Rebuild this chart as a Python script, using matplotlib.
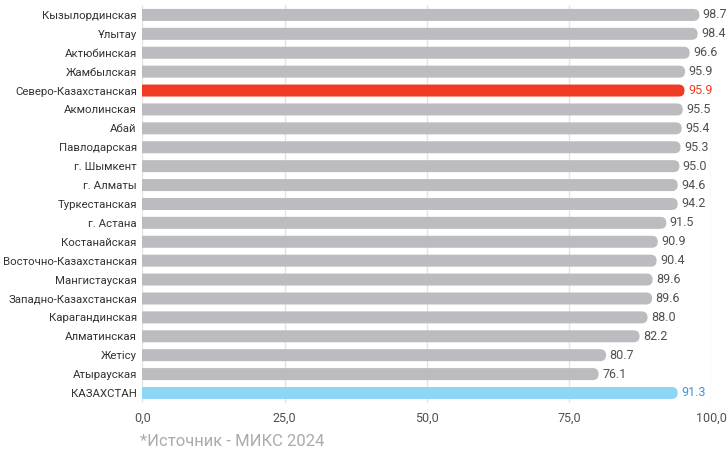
import matplotlib
matplotlib.use("Agg")
import matplotlib.pyplot as plt
from matplotlib.patches import FancyBboxPatch

plt.rcParams['font.family'] = ['Roboto', 'DejaVu Sans']

regions = ['Кызылординская', 'Ұлытау', 'Актюбинская', 'Жамбылская',
           'Северо-Казахстанская', 'Акмолинская', 'Абай', 'Павлодарская',
           'г. Шымкент', 'г. Алматы', 'Туркестанская', 'г. Астана',
           'Костанайская', 'Восточно-Казахстанская', 'Мангистауская',
           'Западно-Казахстанская', 'Карагандинская', 'Алматинская',
           'Жетісу', 'Атырауская', 'КАЗАХСТАН']
# numbers printed next to the bars
values = [98.7, 98.4, 96.6, 95.9, 95.9, 95.5, 95.4, 95.3, 95.0, 94.6, 94.2,
          91.5, 90.9, 90.4, 89.6, 89.6, 88.0, 82.2, 80.7, 76.1, 91.3]
# bar lengths as drawn in the picture (they don't follow the labels exactly)
bar_lengths = [97.9, 97.6, 96.2, 95.4, 95.3, 95.0, 94.8, 94.6, 94.4, 94.1, 94.1,
               92.1, 90.6, 90.4, 89.7, 89.6, 88.8, 87.4, 81.5, 80.2, 94.1]
highlight = {'Северо-Казахстанская': ('#ef3b23', '#ef3b23'),
             'КАЗАХСТАН': ('#8ed5f6', '#3f93d8')}
gray = '#bcbcc0'
label_gray = '#505050'
xticks = [0, 25, 50, 75, 100]

fig = plt.figure(figsize=(7.28, 4.54), dpi=100)
ax = fig.add_axes([0.1955, 0.1115, 0.7815, 0.8785])

ymin, ymax = -0.55, len(regions) - 0.45
ax.set_xlim(0, 100)
ax.set_ylim(ymax, ymin)

# pixel scale so the round caps stay circular
ax_w = fig.get_figwidth() * fig.dpi * 0.7815
ax_h = fig.get_figheight() * fig.dpi * 0.8785
px_x = ax_w / 100.0
px_y = ax_h / (ymax - ymin)
bar_h = 0.635
r = bar_h / 2 * px_y / px_x * 0.98

for i, (name, length, val) in enumerate(zip(regions, bar_lengths, values)):
    color, tcolor = highlight.get(name, (gray, label_gray))
    patch = FancyBboxPatch((-5, i - bar_h / 2), length + 5, bar_h,
                           boxstyle="round,pad=0,rounding_size=%f" % r,
                           mutation_aspect=px_x / px_y,
                           facecolor=color, edgecolor='none', zorder=2)
    ax.add_patch(patch)
    ax.annotate('%.1f' % val, (length, i), xytext=(2.5, 0),
                textcoords='offset points', ha='left', va='center',
                fontsize=9, color=tcolor, zorder=3, annotation_clip=False)

ax.set_yticks(range(len(regions)))
ax.set_yticklabels(regions, fontsize=8.2, color='#333333')
ax.set_xticks(xticks)
ax.set_xticklabels([('%.1f' % t).replace('.', ',') for t in xticks],
                   fontsize=9, color=label_gray)
ax.tick_params(axis='both', length=0)
ax.tick_params(axis='y', pad=4)
ax.tick_params(axis='x', pad=6)
ax.grid(axis='x', color='#e4e4e4', linewidth=1, zorder=0)
ax.set_axisbelow(True)
for s in ax.spines.values():
    s.set_visible(False)

fig.text(140 / 728, 1 - 441 / 454, '*Источник - МИКС 2024', fontsize=12,
         color='#ababab', ha='left', va='center')

fig.savefig('out.png', dpi=100)
